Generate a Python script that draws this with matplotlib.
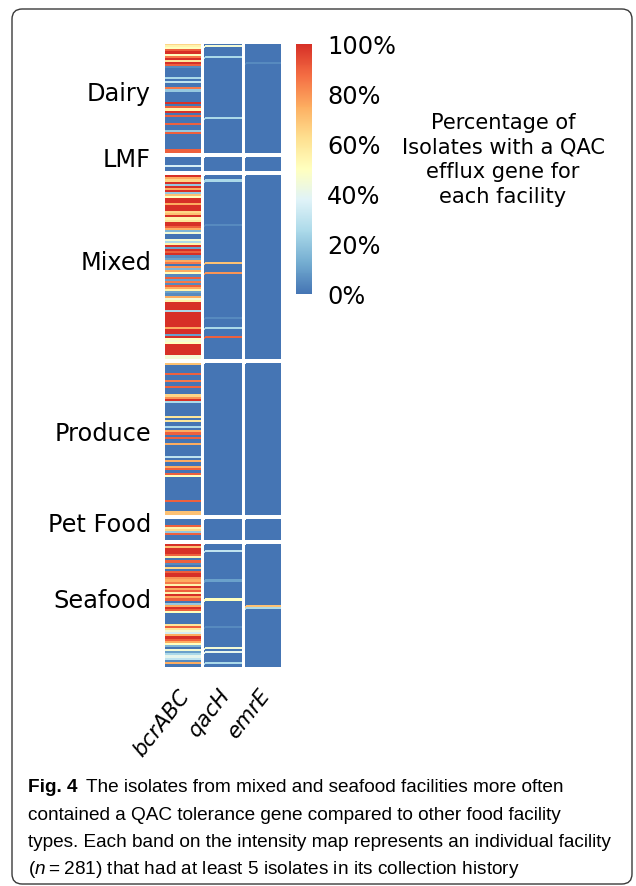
import numpy as np
import matplotlib
matplotlib.use("Agg")
import matplotlib.pyplot as plt
from matplotlib.colors import LinearSegmentedColormap, Normalize
from matplotlib.patches import FancyBboxPatch
import matplotlib.transforms as mtransforms

# facility groups, top to bottom
groups = ["Dairy", "LMF", "Mixed", "Produce", "Pet Food", "Seafood"]
genes = ["bcrABC", "qacH", "emrE"]

# percent of isolates with each gene, one value per facility (row)
dairy_bcr = [65, 55, 50, 90, 100, 50, 85, 100, 60, 100, 90, 5, 0, 0, 0, 0, 25, 0, 30, 0,
             0, 85, 20, 0, 0, 0, 0, 0, 100, 0, 90, 55, 100, 0, 90, 0, 0, 0, 90, 0,
             0, 20, 90, 0, 0, 0, 0, 0, 0, 0, 90]
dairy_qac = [0, 45, 0, 0, 0, 0, 25, 0, 0, 0, 0, 0, 0, 0, 0, 0, 0, 0, 0, 0,
             0, 0, 0, 0, 0, 0, 0, 0, 0, 0, 0, 0, 0, 0, 0, 25, 0, 0, 0, 0,
             0, 0, 0, 0, 0, 0, 0, 0, 0, 0, 0]
dairy_emr = [0, 0, 0, 0, 0, 0, 0, 0, 0, 5, 0, 0, 0, 0, 0, 0, 0, 0, 0, 0,
             0, 0, 0, 0, 0, 0, 0, 0, 0, 0, 0, 0, 0, 0, 0, 0, 0, 0, 0, 0,
             0, 0, 0, 0, 0, 0, 0, 0, 0, 0, 0]

lmf_bcr = [0, 0, 0, 0, 35, 0]
lmf_qac = [0, 0, 0, 0, 0, 0]
lmf_emr = [0, 0, 0, 0, 0, 0]

mixed_bcr = [100, 75, 65, 100, 20, 100, 75, 100, 20, 70, 50, 100, 100, 75, 100, 100, 100, 65, 70, 100,
             55, 60, 100, 100, 90, 75, 15, 45, 0, 0, 45, 25, 55, 100, 10, 100, 90, 100, 5, 10,
             75, 85, 0, 80, 15, 75, 50, 5, 90, 10, 85, 5, 90, 75, 55, 10, 5, 75, 45, 55,
             100, 100, 100, 100, 25, 100, 100, 100, 100, 100, 100, 100, 75, 100, 100, 10, 100, 50, 45, 50,
             100, 100, 100, 100, 100, 45]
mixed_qac = [0, 0, 25, 0, 0, 0, 0, 0, 0, 0, 0, 0, 0, 0, 0, 0, 0, 0, 0, 0,
             0, 0, 0, 5, 0, 0, 0, 0, 0, 0, 0, 0, 0, 0, 0, 0, 0, 0, 0, 0,
             0, 70, 0, 0, 0, 0, 80, 0, 0, 0, 0, 0, 0, 0, 0, 0, 0, 0, 0, 0,
             0, 0, 0, 0, 0, 0, 0, 5, 0, 0, 0, 0, 25, 0, 0, 0, 90, 0, 0, 0,
             0, 0, 0, 0, 0, 0]
mixed_emr = [0, 0, 0, 0, 0, 0, 0, 0, 0, 0, 0, 0, 0, 0, 0, 0, 0, 0, 0, 0,
             0, 0, 0, 0, 0, 0, 0, 0, 0, 0, 0, 0, 0, 0, 0, 0, 0, 0, 0, 0,
             0, 0, 0, 0, 0, 0, 0, 0, 0, 0, 0, 0, 0, 0, 0, 0, 0, 0, 0, 0,
             0, 0, 0, 0, 0, 0, 0, 0, 0, 0, 0, 0, 0, 0, 0, 0, 0, 0, 0, 0,
             0, 0, 0, 0, 0, 0]

produce_bcr = [70, 0, 0, 0, 0, 90, 0, 0, 85, 0, 0, 90, 0, 0, 0, 65, 80, 100, 25, 0,
               0, 0, 0, 0, 0, 60, 0, 60, 0, 0, 25, 0, 75, 90, 0, 90, 0, 0, 75, 0,
               0, 0, 0, 0, 30, 0, 75, 0, 0, 75, 90, 0, 90, 50, 0, 0, 0, 0, 0, 0,
               0, 0, 0, 0, 0, 90, 0, 0, 0, 0, 70]
produce_qac = [0, 0, 0, 0, 0, 0, 0, 0, 0, 0, 0, 0, 0, 0, 0, 0, 0, 0, 0, 0,
               0, 0, 0, 0, 0, 0, 0, 0, 0, 0, 0, 0, 0, 0, 0, 0, 0, 0, 0, 0,
               0, 0, 0, 0, 0, 0, 0, 0, 0, 0, 0, 0, 0, 0, 0, 0, 0, 0, 0, 0,
               0, 0, 0, 0, 0, 0, 0, 0, 0, 0, 0]
produce_emr = [0, 0, 0, 0, 0, 0, 0, 0, 0, 0, 0, 0, 0, 0, 0, 0, 0, 0, 0, 0,
               0, 0, 0, 0, 0, 0, 0, 0, 0, 0, 0, 0, 0, 0, 0, 0, 0, 0, 0, 0,
               0, 0, 0, 0, 0, 0, 0, 0, 0, 0, 0, 0, 0, 0, 0, 0, 0, 0, 0, 0,
               0, 0, 0, 0, 0, 0, 0, 0, 0, 0, 0]

pet_bcr = [0, 0, 0, 90, 55, 65, 20, 90, 0]
pet_qac = [0, 0, 0, 0, 0, 0, 0, 0, 0]
pet_emr = [0, 0, 0, 0, 0, 0, 0, 0, 0]

seafood_bcr = [100, 70, 100, 100, 100, 90, 55, 0, 90, 5, 0, 65, 0, 90, 100, 100, 80, 75, 85, 55,
               100, 75, 90, 55, 100, 75, 90, 0, 20, 75, 100, 90, 50, 0, 0, 0, 0, 0, 60, 90,
               60, 45, 35, 75, 100, 90, 75, 50, 15, 0, 45, 10, 25, 40, 30, 5, 75, 0]
seafood_qac = [0, 0, 0, 30, 0, 0, 0, 0, 0, 0, 0, 0, 0, 0, 0, 0, 0, 10, 0, 0,
               0, 0, 0, 0, 0, 0, 50, 0, 0, 0, 0, 0, 0, 0, 0, 0, 0, 0, 0, 5,
               0, 0, 0, 0, 0, 0, 0, 0, 0, 45, 0, 40, 0, 0, 0, 0, 25, 0]
seafood_emr = [0, 0, 0, 0, 0, 0, 0, 0, 0, 0, 0, 0, 0, 0, 0, 0, 0, 0, 0, 0,
               0, 0, 0, 0, 0, 0, 0, 0, 0, 70, 25, 0, 0, 0, 0, 0, 0, 0, 0, 0,
               0, 0, 0, 0, 0, 0, 0, 0, 0, 0, 0, 0, 0, 0, 0, 0, 0, 0]

cbar_ticks = [0, 20, 40, 60, 80, 100]
cbar_labels = ["0%", "20%", "40%", "60%", "80%", "100%"]

caption_bold = "Fig. 4"
caption_lines = ["The isolates from mixed and seafood facilities more often",
                 "contained a QAC tolerance gene compared to other food facility",
                 "types. Each band on the intensity map represents an individual facility",
                 "($n$\u2009=\u2009281) that had at least 5 isolates in its collection history"]

data = [
    (dairy_bcr, dairy_qac, dairy_emr),
    (lmf_bcr, lmf_qac, lmf_emr),
    (mixed_bcr, mixed_qac, mixed_emr),
    (produce_bcr, produce_qac, produce_emr),
    (pet_bcr, pet_qac, pet_emr),
    (seafood_bcr, seafood_qac, seafood_emr),
]

cmap = LinearSegmentedColormap.from_list(
    "qac", ["#4575b4", "#74add1", "#abd9e9", "#e0f3f8", "#ffffbf",
            "#fee090", "#fdae61", "#f46d43", "#d73027"])
norm = Normalize(0, 100)

plt.rcParams['font.family'] = ['DejaVu Sans']
plt.rcParams['mathtext.fontset'] = 'custom'
plt.rcParams['mathtext.it'] = 'Liberation Sans:italic'
plt.rcParams['mathtext.rm'] = 'Liberation Sans'

W, H = 636, 887
fig = plt.figure(figsize=(W / 100, H / 100), dpi=100)

# heatmap
ax = fig.add_axes([165 / W, 1 - 668 / H, 116 / W, 623 / H])
gap = 2.8
col_step = 1.14
y0 = 0
centers = []
for (bcr, qac, emr) in data:
    n = len(bcr)
    ys = y0 + np.arange(n + 1)
    for j, vals in enumerate([bcr, qac, emr]):
        c = np.array(vals, dtype=float).reshape(-1, 1)
        ax.pcolormesh([j * col_step, j * col_step + 1], ys, c, cmap=cmap, norm=norm,
                      edgecolors='face', linewidth=0.2)
    centers.append(y0 + n / 2)
    y0 += n + gap
total = y0 - gap
ax.set_ylim(total, 0)
ax.set_xlim(0, 2 * col_step + 1)
for s in ax.spines.values():
    s.set_visible(False)
ax.set_yticks([])
ax.set_xticks([j * col_step + 0.35 for j in range(3)])
ax.set_xticklabels(genes, rotation=52, ha='right', rotation_mode='anchor',
                   fontstyle='italic', fontsize=15.4)
ax.tick_params(axis='x', length=0, pad=13)

trans = mtransforms.blended_transform_factory(ax.transAxes, ax.transData)
for name, yc in zip(groups, centers):
    ax.text(-0.12, yc - 2.5, name, transform=trans, ha='right', va='center', fontsize=17.3)

# colorbar
cax = fig.add_axes([296 / W, 1 - 295 / H, 16 / W, 250 / H])
sm = plt.cm.ScalarMappable(cmap=cmap, norm=norm)
cb = fig.colorbar(sm, cax=cax, ticks=cbar_ticks)
cb.outline.set_visible(False)
cb.ax.set_yticklabels(cbar_labels, fontsize=17.3)
cb.ax.tick_params(length=0, pad=11)

fig.text(503 / W, 1 - 160 / H,
         "Percentage of\nIsolates with a QAC\nefflux gene for\neach facility",
         ha='center', va='center', fontsize=15.1, linespacing=1.3)

# caption
cap_font = 'Liberation Sans'
cap_size = 13.7
baselines = [792, 820, 847, 874]
tb = fig.text(28 / W, 1 - baselines[0] / H, caption_bold, fontweight='bold',
              family=cap_font, fontsize=cap_size, va='baseline')
fig.canvas.draw()
bb = tb.get_window_extent(fig.canvas.get_renderer())
fig.text((bb.x1 + 9) / W, 1 - baselines[0] / H, caption_lines[0],
         family=cap_font, fontsize=cap_size, va='baseline')
for line, yb in zip(caption_lines[1:], baselines[1:]):
    fig.text(28 / W, 1 - yb / H, line, family=cap_font, fontsize=cap_size, va='baseline')

box = FancyBboxPatch((12 / W, 1 - 885 / H), 620 / W, 875 / H,
                     boxstyle="round,pad=0,rounding_size=0.016",
                     mutation_aspect=W / H, transform=fig.transFigure,
                     facecolor='none', edgecolor='#3a3a3a', linewidth=1.0)
fig.patches.append(box)

fig.savefig("out.png", dpi=100)
